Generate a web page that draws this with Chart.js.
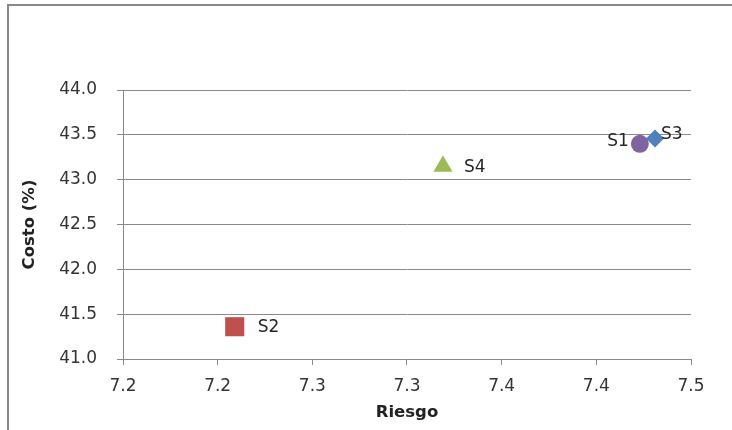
<!DOCTYPE html>
<html>
<head>
<meta charset="utf-8">
<script src="https://cdn.jsdelivr.net/npm/chart.js@4.4.1/dist/chart.umd.min.js"></script>
<style>
  html, body { margin: 0; padding: 0; background: #fff; }
  #wrap { width: 732px; height: 430px; }
</style>
</head>
<body>
<div id="wrap"><canvas id="risk-cost-chart"></canvas></div>
<script>
// scenarios: risk vs cost
const scenarios = ['S1', 'S2', 'S3', 'S4'];
const riesgo = [7.473, 7.259, 7.481, 7.369];
const costo = [43.40, 41.36, 43.46, 43.15];

const xTicks = [7.2, 7.25, 7.3, 7.35, 7.4, 7.45, 7.5];
const xTickLabels = ['7.2', '7.2', '7.3', '7.3', '7.4', '7.4', '7.5'];
const yTicks = [41, 41.5, 42, 42.5, 43, 43.5, 44];
const yTickLabels = ['41.0', '41.5', '42.0', '42.5', '43.0', '43.5', '44.0'];

const markers = {
    S1: {color: '#8064A2', style: 'circle', radius: 9},
    S2: {color: '#C0504D', style: 'rect', radius: 13.5},
    S3: {color: '#4F81BD', style: 'rectRot', radius: 9},
    S4: {color: '#9BBB59', style: 'triangle', radius: 11}
};

// where each name sits next to its marker
const labelPlacement = {
    S1: {dx: -11, dy: -2, align: 'right'},
    S2: {dx: 23, dy: 1, align: 'left'},
    S3: {dx: 6, dy: -4, align: 'left'},
    S4: {dx: 21, dy: 1, align: 'left'}
};

const fontFamily = '"DejaVu Sans", Verdana, sans-serif';
const gridColor = '#8a8a8a';
const textColor = '#333333';

const frame = {
    id: 'frame',
    beforeDraw(chart) {
        const ctx = chart.ctx;
        ctx.save();
        ctx.fillStyle = '#ffffff';
        ctx.fillRect(0, 0, chart.width, chart.height);
        ctx.strokeStyle = '#888888';
        ctx.lineWidth = 2;
        ctx.strokeRect(8, 5, chart.width + 20, chart.height + 20);
        ctx.restore();
    }
};

const scenarioLabels = {
    id: 'scenarioLabels',
    afterDatasetsDraw(chart) {
        const ctx = chart.ctx;
        ctx.save();
        ctx.font = '17px ' + fontFamily;
        ctx.fillStyle = '#262626';
        ctx.textBaseline = 'middle';
        chart.data.datasets.forEach((ds, i) => {
            const point = chart.getDatasetMeta(i).data[0];
            const place = labelPlacement[ds.label];
            ctx.textAlign = place.align;
            ctx.fillText(ds.label, point.x + place.dx, point.y + place.dy);
        });
        ctx.restore();
    }
};

const datasets = scenarios.map((name, i) => ({
    label: name,
    data: [{x: riesgo[i], y: costo[i]}],
    pointStyle: markers[name].style,
    pointRadius: markers[name].radius,
    pointHoverRadius: markers[name].radius,
    backgroundColor: markers[name].color,
    borderColor: markers[name].color,
    borderWidth: 0,
    order: scenarios.length - i
}));

new Chart(document.getElementById('risk-cost-chart'), {
    type: 'scatter',
    data: {datasets: datasets},
    options: {
        responsive: true,
        maintainAspectRatio: false,
        animation: false,
        layout: {
            padding: {top: 90, right: 41, bottom: 4, left: 12}
        },
        plugins: {
            legend: {display: false},
            tooltip: {enabled: false}
        },
        scales: {
            x: {
                type: 'linear',
                min: 7.2,
                max: 7.5,
                afterBuildTicks: axis => {
                    axis.ticks = xTicks.map(v => ({value: v}));
                },
                afterFit: axis => {
                    axis.height = 67;
                },
                ticks: {
                    callback: (value, index) => xTickLabels[index],
                    autoSkip: false,
                    maxRotation: 0,
                    padding: 11,
                    color: textColor,
                    font: {family: fontFamily, size: 17}
                },
                grid: {
                    drawOnChartArea: false,
                    tickLength: 6,
                    color: gridColor
                },
                border: {color: gridColor},
                title: {
                    display: true,
                    text: 'Riesgo',
                    color: '#222222',
                    padding: {top: 0, bottom: 3},
                    font: {family: fontFamily, size: 16.5, weight: 'bold'}
                }
            },
            y: {
                min: 41,
                max: 44,
                afterBuildTicks: axis => {
                    axis.ticks = yTicks.map(v => ({value: v}));
                },
                afterFit: axis => {
                    axis.width = 111;
                },
                ticks: {
                    callback: (value, index) => yTickLabels[index],
                    padding: 20,
                    color: textColor,
                    font: {family: fontFamily, size: 17}
                },
                grid: {
                    tickLength: 6,
                    color: gridColor
                },
                border: {color: gridColor},
                title: {
                    display: true,
                    text: 'Costo (%)',
                    color: '#222222',
                    padding: {top: 8, bottom: 0},
                    font: {family: fontFamily, size: 16.5, weight: 'bold'}
                }
            }
        }
    },
    plugins: [frame, scenarioLabels]
});
</script>
</body>
</html>
